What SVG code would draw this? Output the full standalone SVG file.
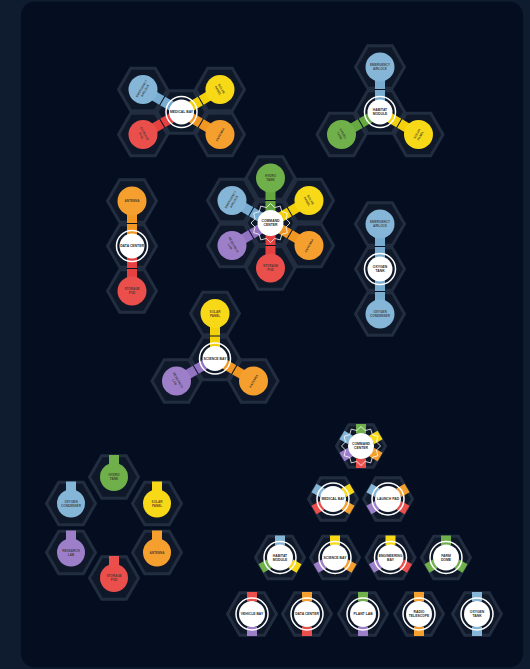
<svg xmlns="http://www.w3.org/2000/svg" xmlns:xlink="http://www.w3.org/1999/xlink" width="530" height="669" viewBox="0 0 530 669">
<style>
.hex{fill:#0e1829;stroke:#222e40;stroke-width:3}
.lbl{font-family:"Liberation Sans",Arial,sans-serif;font-size:3.4px;font-weight:700;fill:#2a2a2a;text-anchor:middle}
.sl{font-family:"Liberation Sans",Arial,sans-serif;font-size:3.1px;font-weight:700;fill:#33302c;fill-opacity:0.85;text-anchor:middle}
.ring{fill:none;stroke:#ffffff;stroke-width:1.5}
.disk{fill:#ffffff}
.star{fill:none;stroke:#ffffff;stroke-width:0.8}
.bar{stroke-width:10;stroke-linecap:butt;fill:none}
.cut{stroke:#0a1322;stroke-width:1}
.fb{fill:#86b6d7}.fg{fill:#6fb04a}.fy{fill:#f7d917}.fo{fill:#f5a02e}.fr{fill:#eb4f4c}.fp{fill:#9d7ec8}
.sb{stroke:#78acd1}.sg{stroke:#64a83f}.sy{stroke:#f3d20c}.so{stroke:#f29722}.sr{stroke:#e54141}.sp{stroke:#9273c2}
</style>
<defs>
<polygon id="hx" class="hex" points="24.5,0 12.25,21.22 -12.25,21.22 -24.5,0 -12.25,-21.22 12.25,-21.22"/>
<polygon id="star" class="star" points="19.5,0 15.45,4.14 16.89,9.75 11.31,11.31 9.75,16.89 4.14,15.45 0,19.5 -4.14,15.45 -9.75,16.89 -11.31,11.31 -16.89,9.75 -15.45,4.14 -19.5,0 -15.45,-4.14 -16.89,-9.75 -11.31,-11.31 -9.75,-16.89 -4.14,-15.45 0,-19.5 4.14,-15.45 9.75,-16.89 11.31,-11.31 16.89,-9.75 15.45,-4.14"/>
<rect id="stub" x="-5" y="-22" width="10" height="9.5"/>
</defs>
<rect x="0" y="0" width="530" height="669" fill="#0f1c30"/>
<rect x="21" y="1.5" width="502" height="666" rx="14" fill="#040e20"/>

<g id="tiles">
<use href="#hx" x="181.5" y="112"/><use href="#hx" x="143" y="89.5"/><use href="#hx" x="220" y="89.5"/><use href="#hx" x="143" y="134.5"/><use href="#hx" x="220" y="134.5"/>
<use href="#hx" x="380" y="112"/><use href="#hx" x="380" y="67"/><use href="#hx" x="341.5" y="134.5"/><use href="#hx" x="418.5" y="134.5"/>
<use href="#hx" x="270.5" y="223"/><use href="#hx" x="270.5" y="178"/><use href="#hx" x="232" y="200.5"/><use href="#hx" x="309" y="200.5"/><use href="#hx" x="232" y="245.5"/><use href="#hx" x="309" y="245.5"/><use href="#hx" x="270.5" y="268"/>
<use href="#hx" x="132" y="246"/><use href="#hx" x="132" y="201"/><use href="#hx" x="132" y="291"/>
<use href="#hx" x="380" y="269"/><use href="#hx" x="380" y="224"/><use href="#hx" x="380" y="314"/>
<use href="#hx" x="215" y="358.5"/><use href="#hx" x="215" y="313.5"/><use href="#hx" x="176.5" y="381"/><use href="#hx" x="253.5" y="381"/>
</g>

<g id="connectors">
<line class="bar sb" x1="181.5" y1="112" x2="143" y2="89.5"/>
<line class="bar sy" x1="181.5" y1="112" x2="220" y2="89.5"/>
<line class="bar sr" x1="181.5" y1="112" x2="143" y2="134.5"/>
<line class="bar so" x1="181.5" y1="112" x2="220" y2="134.5"/>
<line class="bar sb" x1="380" y1="112" x2="380" y2="67"/>
<line class="bar sg" x1="380" y1="112" x2="341.5" y2="134.5"/>
<line class="bar sy" x1="380" y1="112" x2="418.5" y2="134.5"/>
<line class="bar sg" x1="270.5" y1="223" x2="270.5" y2="178"/>
<line class="bar sb" x1="270.5" y1="223" x2="232" y2="200.5"/>
<line class="bar sy" x1="270.5" y1="223" x2="309" y2="200.5"/>
<line class="bar sp" x1="270.5" y1="223" x2="232" y2="245.5"/>
<line class="bar so" x1="270.5" y1="223" x2="309" y2="245.5"/>
<line class="bar sr" x1="270.5" y1="223" x2="270.5" y2="268"/>
<line class="bar so" x1="132" y1="246" x2="132" y2="201"/>
<line class="bar sr" x1="132" y1="246" x2="132" y2="291"/>
<line class="bar sb" x1="380" y1="269" x2="380" y2="224"/>
<line class="bar sb" x1="380" y1="269" x2="380" y2="314"/>
<line class="bar sy" x1="215" y1="358.5" x2="215" y2="313.5"/>
<line class="bar sp" x1="215" y1="358.5" x2="176.5" y2="381"/>
<line class="bar so" x1="215" y1="358.5" x2="253.5" y2="381"/>
<g class="cut">
<line x1="0" y1="-5.5" x2="0" y2="5.5" transform="translate(162.25,100.75) rotate(-150)"/>
<line x1="0" y1="-5.5" x2="0" y2="5.5" transform="translate(200.75,100.75) rotate(-30)"/>
<line x1="0" y1="-5.5" x2="0" y2="5.5" transform="translate(162.25,123.25) rotate(150)"/>
<line x1="0" y1="-5.5" x2="0" y2="5.5" transform="translate(200.75,123.25) rotate(30)"/>
<line x1="0" y1="-5.5" x2="0" y2="5.5" transform="translate(380,89.5) rotate(-90)"/>
<line x1="0" y1="-5.5" x2="0" y2="5.5" transform="translate(360.75,123.25) rotate(150)"/>
<line x1="0" y1="-5.5" x2="0" y2="5.5" transform="translate(399.25,123.25) rotate(30)"/>
<line x1="0" y1="-5.5" x2="0" y2="5.5" transform="translate(270.5,200.5) rotate(-90)"/>
<line x1="0" y1="-5.5" x2="0" y2="5.5" transform="translate(251.25,211.75) rotate(-150)"/>
<line x1="0" y1="-5.5" x2="0" y2="5.5" transform="translate(289.75,211.75) rotate(-30)"/>
<line x1="0" y1="-5.5" x2="0" y2="5.5" transform="translate(251.25,234.25) rotate(150)"/>
<line x1="0" y1="-5.5" x2="0" y2="5.5" transform="translate(289.75,234.25) rotate(30)"/>
<line x1="0" y1="-5.5" x2="0" y2="5.5" transform="translate(270.5,245.5) rotate(90)"/>
<line x1="0" y1="-5.5" x2="0" y2="5.5" transform="translate(132,223.5) rotate(90)"/>
<line x1="0" y1="-5.5" x2="0" y2="5.5" transform="translate(132,268.5) rotate(90)"/>
<line x1="0" y1="-5.5" x2="0" y2="5.5" transform="translate(380,246.5) rotate(90)"/>
<line x1="0" y1="-5.5" x2="0" y2="5.5" transform="translate(380,291.5) rotate(90)"/>
<line x1="0" y1="-5.5" x2="0" y2="5.5" transform="translate(215,336) rotate(90)"/>
<line x1="0" y1="-5.5" x2="0" y2="5.5" transform="translate(195.75,369.75) rotate(150)"/>
<line x1="0" y1="-5.5" x2="0" y2="5.5" transform="translate(234.25,369.75) rotate(30)"/>
</g>
</g>

<!-- Medical bay cluster -->
<g id="medical-bay" transform="translate(181.5,112)"><circle class="ring" r="15.5"/><circle class="disk" r="12.5"/><text class="lbl" y="1.2">MEDICAL BAY</text></g>
<g id="mb-emergency-airlock" transform="translate(143,89.5)"><circle class="fb" r="14.5"/><text class="sl" transform="rotate(-60)"><tspan x="0" y="-0.6">EMERGENCY</tspan><tspan x="0" y="3.4">AIRLOCK</tspan></text></g>
<g id="mb-solar-panel" transform="translate(220,89.5)"><circle class="fy" r="14.5"/><text class="sl" transform="rotate(60)"><tspan x="0" y="-0.6">SOLAR</tspan><tspan x="0" y="3.4">PANEL</tspan></text></g>
<g id="mb-storage-pod" transform="translate(143,134.5)"><circle class="fr" r="14.5"/><text class="sl" transform="rotate(60)"><tspan x="0" y="-0.6">STORAGE</tspan><tspan x="0" y="3.4">POD</tspan></text></g>
<g id="mb-antenna" transform="translate(220,134.5)"><circle class="fo" r="14.5"/><text class="sl" transform="rotate(-60)" y="1.2">ANTENNA</text></g>

<!-- Habitat module cluster -->
<g id="habitat-module" transform="translate(380,112)"><circle class="ring" r="15.5"/><circle class="disk" r="12.5"/><text class="lbl"><tspan x="0" y="-0.6">HABITAT</tspan><tspan x="0" y="3.4">MODULE</tspan></text></g>
<g id="hm-emergency-airlock" transform="translate(380,67)"><circle class="fb" r="14.5"/><text class="sl"><tspan x="0" y="-0.6">EMERGENCY</tspan><tspan x="0" y="3.4">AIRLOCK</tspan></text></g>
<g id="hm-hydro-tank" transform="translate(341.5,134.5)"><circle class="fg" r="14.5"/><text class="sl" transform="rotate(60)"><tspan x="0" y="-0.6">HYDRO</tspan><tspan x="0" y="3.4">TANK</tspan></text></g>
<g id="hm-solar-panel" transform="translate(418.5,134.5)"><circle class="fy" r="14.5"/><text class="sl" transform="rotate(-60)"><tspan x="0" y="-0.6">SOLAR</tspan><tspan x="0" y="3.4">PANEL</tspan></text></g>

<!-- Command center cluster -->
<g id="command-center" transform="translate(270.5,223)"><use href="#star"/><circle class="disk" r="13"/><text class="lbl"><tspan x="0" y="-0.6">COMMAND</tspan><tspan x="0" y="3.4">CENTER</tspan></text></g>
<g id="cc-hydro-tank" transform="translate(270.5,178)"><circle class="fg" r="14.5"/><text class="sl"><tspan x="0" y="-0.6">HYDRO</tspan><tspan x="0" y="3.4">TANK</tspan></text></g>
<g id="cc-emergency-airlock" transform="translate(232,200.5)"><circle class="fb" r="14.5"/><text class="sl" transform="rotate(-60)"><tspan x="0" y="-0.6">EMERGENCY</tspan><tspan x="0" y="3.4">AIRLOCK</tspan></text></g>
<g id="cc-solar-panel" transform="translate(309,200.5)"><circle class="fy" r="14.5"/><text class="sl" transform="rotate(60)"><tspan x="0" y="-0.6">SOLAR</tspan><tspan x="0" y="3.4">PANEL</tspan></text></g>
<g id="cc-research-lab" transform="translate(232,245.5)"><circle class="fp" r="14.5"/><text class="sl" transform="rotate(60)"><tspan x="0" y="-0.6">RESEARCH</tspan><tspan x="0" y="3.4">LAB</tspan></text></g>
<g id="cc-antenna" transform="translate(309,245.5)"><circle class="fo" r="14.5"/><text class="sl" transform="rotate(-60)" y="1.2">ANTENNA</text></g>
<g id="cc-storage-pod" transform="translate(270.5,268)"><circle class="fr" r="14.5"/><text class="sl"><tspan x="0" y="-0.6">STORAGE</tspan><tspan x="0" y="3.4">POD</tspan></text></g>

<!-- Data center cluster -->
<g id="data-center" transform="translate(132,246)"><circle class="ring" r="15.5"/><circle class="disk" r="12.5"/><text class="lbl" y="1.2">DATA CENTER</text></g>
<g id="dc-antenna" transform="translate(132,201)"><circle class="fo" r="14.5"/><text class="sl" y="1.2">ANTENNA</text></g>
<g id="dc-storage-pod" transform="translate(132,291)"><circle class="fr" r="14.5"/><text class="sl"><tspan x="0" y="-0.6">STORAGE</tspan><tspan x="0" y="3.4">POD</tspan></text></g>

<!-- Oxygen tank cluster -->
<g id="oxygen-tank" transform="translate(380,269)"><circle class="ring" r="15.5"/><circle class="disk" r="12.5"/><text class="lbl"><tspan x="0" y="-0.6">OXYGEN</tspan><tspan x="0" y="3.4">TANK</tspan></text></g>
<g id="ot-emergency-airlock" transform="translate(380,224)"><circle class="fb" r="14.5"/><text class="sl"><tspan x="0" y="-0.6">EMERGENCY</tspan><tspan x="0" y="3.4">AIRLOCK</tspan></text></g>
<g id="ot-oxygen-condenser" transform="translate(380,314)"><circle class="fb" r="14.5"/><text class="sl"><tspan x="0" y="-0.6">OXYGEN</tspan><tspan x="0" y="3.4">CONDENSER</tspan></text></g>

<!-- Science bay cluster -->
<g id="science-bay" transform="translate(215,358.5)"><circle class="ring" r="15.5"/><circle class="disk" r="12.5"/><text class="lbl" y="1.2">SCIENCE BAY</text></g>
<g id="sb-solar-panel" transform="translate(215,313.5)"><circle class="fy" r="14.5"/><text class="sl"><tspan x="0" y="-0.6">SOLAR</tspan><tspan x="0" y="3.4">PANEL</tspan></text></g>
<g id="sb-research-lab" transform="translate(176.5,381)"><circle class="fp" r="14.5"/><text class="sl" transform="rotate(60)"><tspan x="0" y="-0.6">RESEARCH</tspan><tspan x="0" y="3.4">LAB</tspan></text></g>
<g id="sb-antenna" transform="translate(253.5,381)"><circle class="fo" r="14.5"/><text class="sl" transform="rotate(-60)" y="1.2">ANTENNA</text></g>

<!-- Ring of modules -->
<g id="ring-hydro-tank" transform="translate(114,477)"><use href="#hx"/><use href="#stub" class="fg"/><circle class="fg" r="14"/><text class="sl"><tspan x="0" y="-0.6">HYDRO</tspan><tspan x="0" y="3.4">TANK</tspan></text></g>
<g id="ring-oxygen-condenser" transform="translate(71,503.5)"><use href="#hx"/><use href="#stub" class="fb"/><circle class="fb" r="14"/><text class="sl"><tspan x="0" y="-0.6">OXYGEN</tspan><tspan x="0" y="3.4">CONDENSER</tspan></text></g>
<g id="ring-solar-panel" transform="translate(157,503.5)"><use href="#hx"/><use href="#stub" class="fy"/><circle class="fy" r="14"/><text class="sl"><tspan x="0" y="-0.6">SOLAR</tspan><tspan x="0" y="3.4">PANEL</tspan></text></g>
<g id="ring-research-lab" transform="translate(71,552.5)"><use href="#hx"/><use href="#stub" class="fp"/><circle class="fp" r="14"/><text class="sl"><tspan x="0" y="-0.6">RESEARCH</tspan><tspan x="0" y="3.4">LAB</tspan></text></g>
<g id="ring-antenna" transform="translate(157,552.5)"><use href="#hx"/><use href="#stub" class="fo"/><circle class="fo" r="14"/><text class="sl" y="1.2">ANTENNA</text></g>
<g id="ring-storage-pod" transform="translate(114,578)"><use href="#hx"/><use href="#stub" class="fr"/><circle class="fr" r="14"/><text class="sl"><tspan x="0" y="-0.6">STORAGE</tspan><tspan x="0" y="3.4">POD</tspan></text></g>

<!-- Pyramid of module icons -->
<g id="icon-command-center" transform="translate(361,446)"><use href="#hx"/>
<use href="#stub" class="fg"/><use href="#stub" class="fy" transform="rotate(60)"/><use href="#stub" class="fo" transform="rotate(120)"/><use href="#stub" class="fr" transform="rotate(180)"/><use href="#stub" class="fp" transform="rotate(240)"/><use href="#stub" class="fb" transform="rotate(300)"/>
<use href="#star"/><circle class="disk" r="13"/><text class="lbl"><tspan x="0" y="-0.6">COMMAND</tspan><tspan x="0" y="3.4">CENTER</tspan></text></g>
<g id="icon-medical-bay" transform="translate(333,499)"><use href="#hx"/>
<use href="#stub" class="fy" transform="rotate(60)"/><use href="#stub" class="fo" transform="rotate(120)"/><use href="#stub" class="fr" transform="rotate(240)"/><use href="#stub" class="fb" transform="rotate(300)"/>
<circle class="ring" r="16"/><circle class="disk" r="13"/><text class="lbl" y="1.2">MEDICAL BAY</text></g>
<g id="icon-launch-pad" transform="translate(388,499)"><use href="#hx"/>
<use href="#stub" class="fo" transform="rotate(60)"/><use href="#stub" class="fr" transform="rotate(120)"/><use href="#stub" class="fp" transform="rotate(240)"/><use href="#stub" class="fb" transform="rotate(300)"/>
<circle class="ring" r="16"/><circle class="disk" r="13"/><text class="lbl" y="1.2">LAUNCH PAD</text></g>
<g id="icon-habitat-module" transform="translate(280,557.5)"><use href="#hx"/>
<use href="#stub" class="fb"/><use href="#stub" class="fy" transform="rotate(120)"/><use href="#stub" class="fg" transform="rotate(240)"/>
<circle class="ring" r="16"/><circle class="disk" r="13"/><text class="lbl"><tspan x="0" y="-0.6">HABITAT</tspan><tspan x="0" y="3.4">MODULE</tspan></text></g>
<g id="icon-science-bay" transform="translate(335,557.5)"><use href="#hx"/>
<use href="#stub" class="fy"/><use href="#stub" class="fo" transform="rotate(120)"/><use href="#stub" class="fp" transform="rotate(240)"/>
<circle class="ring" r="16"/><circle class="disk" r="13"/><text class="lbl" y="1.2">SCIENCE BAY</text></g>
<g id="icon-engineering-bay" transform="translate(390.5,557.5)"><use href="#hx"/>
<use href="#stub" class="fy"/><use href="#stub" class="fr" transform="rotate(120)"/><use href="#stub" class="fp" transform="rotate(240)"/>
<circle class="ring" r="16"/><circle class="disk" r="13"/><text class="lbl"><tspan x="0" y="-0.6">ENGINEERING</tspan><tspan x="0" y="3.4">BAY</tspan></text></g>
<g id="icon-farm-dome" transform="translate(446,557.5)"><use href="#hx"/>
<use href="#stub" class="fg"/><use href="#stub" class="fg" transform="rotate(120)"/><use href="#stub" class="fg" transform="rotate(240)"/>
<circle class="ring" r="16"/><circle class="disk" r="13"/><text class="lbl"><tspan x="0" y="-0.6">FARM</tspan><tspan x="0" y="3.4">DOME</tspan></text></g>
<g id="icon-vehicle-bay" transform="translate(252,614)"><use href="#hx"/>
<use href="#stub" class="fr"/><use href="#stub" class="fp" transform="rotate(180)"/>
<circle class="ring" r="16"/><circle class="disk" r="13"/><text class="lbl" y="1.2">VEHICLE BAY</text></g>
<g id="icon-data-center" transform="translate(307,614)"><use href="#hx"/>
<use href="#stub" class="fo"/><use href="#stub" class="fr" transform="rotate(180)"/>
<circle class="ring" r="16"/><circle class="disk" r="13"/><text class="lbl" y="1.2">DATA CENTER</text></g>
<g id="icon-plant-lab" transform="translate(363,614)"><use href="#hx"/>
<use href="#stub" class="fg"/><use href="#stub" class="fp" transform="rotate(180)"/>
<circle class="ring" r="16"/><circle class="disk" r="13"/><text class="lbl" y="1.2">PLANT LAB</text></g>
<g id="icon-radio-telescope" transform="translate(419,614)"><use href="#hx"/>
<use href="#stub" class="fo"/><use href="#stub" class="fo" transform="rotate(180)"/>
<circle class="ring" r="16"/><circle class="disk" r="13"/><text class="lbl"><tspan x="0" y="-0.6">RADIO</tspan><tspan x="0" y="3.4">TELESCOPE</tspan></text></g>
<g id="icon-oxygen-tank" transform="translate(477,614)"><use href="#hx"/>
<use href="#stub" class="fb"/><use href="#stub" class="fb" transform="rotate(180)"/>
<circle class="ring" r="16"/><circle class="disk" r="13"/><text class="lbl"><tspan x="0" y="-0.6">OXYGEN</tspan><tspan x="0" y="3.4">TANK</tspan></text></g>
</svg>
